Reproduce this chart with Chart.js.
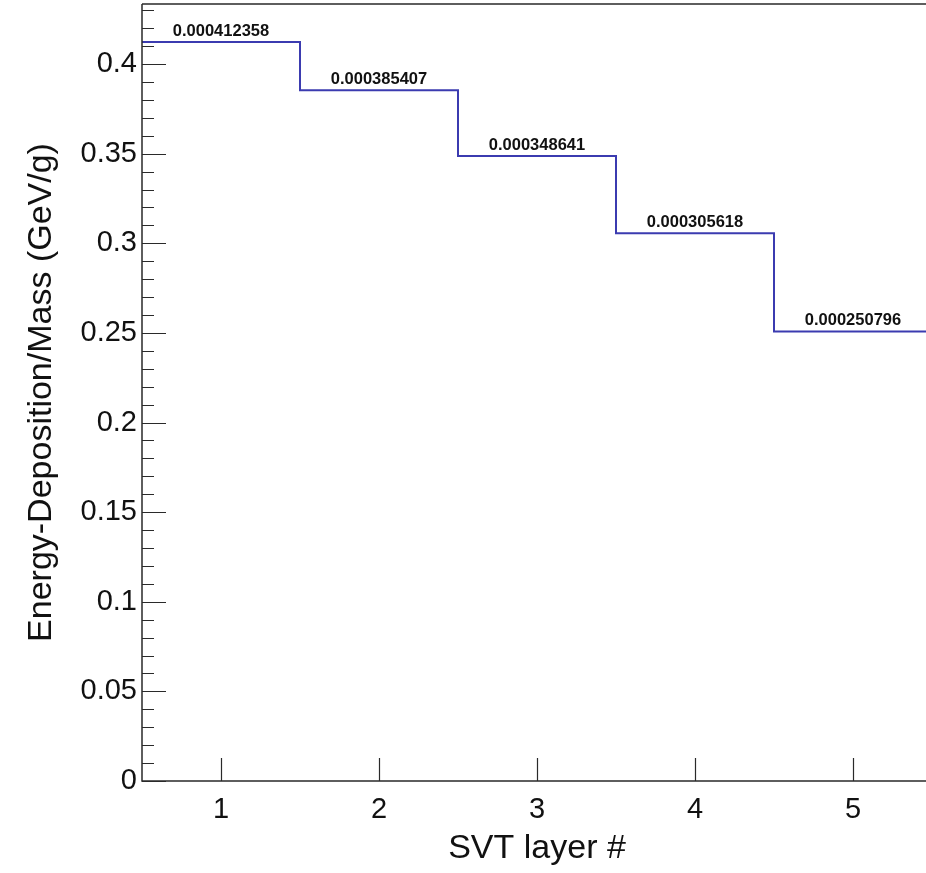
<!DOCTYPE html>
<html>
<head>
<meta charset="utf-8">
<script src="https://cdn.jsdelivr.net/npm/chart.js@4.4.0/dist/chart.umd.min.js"></script>
<style>
  html, body { margin: 0; padding: 0; background: #fff; overflow: hidden; }
  #wrap { position: relative; width: 940px; height: 873px; }
</style>
</head>
<body>
<div id="wrap"><canvas id="layerChart"></canvas></div>
<script>
// SVT layers and the energy deposited per mass in each one
var layers = [1, 2, 3, 4, 5];
var depositValues = [0.412358, 0.385407, 0.348641, 0.305618, 0.250796];
var binLabels = ['0.000412358', '0.000385407', '0.000348641', '0.000305618', '0.000250796'];
var yTickValues = [0, 0.05, 0.1, 0.15, 0.2, 0.25, 0.3, 0.35, 0.4];

var lineColor = '#3b3bb0';
var axisColor = '#2a2a2a';

// histogram outline: one point on each bin's left edge, plus the last right edge
var stepPoints = layers.map(function (l, i) { return { x: l - 0.5, y: depositValues[i] }; });
stepPoints.push({ x: layers[layers.length - 1] + 0.5, y: depositValues[depositValues.length - 1] });

// frame, inward ticks and bin content labels, drawn the ROOT way
var histDecor = {
    id: 'histDecor',
    afterDatasetsDraw: function (chart) {
        var c = chart.ctx;
        var xs = chart.scales.x, ys = chart.scales.y;
        var area = chart.chartArea;
        c.save();
        c.strokeStyle = axisColor;
        c.lineWidth = 1.5;
        c.beginPath();
        c.moveTo(area.left, area.top);
        c.lineTo(area.right, area.top);
        c.moveTo(area.left, area.top);
        c.lineTo(area.left, area.bottom);
        c.lineTo(area.right, area.bottom);
        c.stroke();

        // y ticks: major every 0.05, minor every 0.01
        c.lineWidth = 1.2;
        c.beginPath();
        for (var k = 0; k * 0.01 <= ys.max + 1e-9; k++) {
            var py = Math.round(ys.getPixelForValue(k * 0.01)) + 0.5;
            var len = (k % 5 === 0) ? 24 : 12;
            c.moveTo(area.left, py);
            c.lineTo(area.left + len, py);
        }
        // x ticks at each layer
        layers.forEach(function (l) {
            var px = Math.round(xs.getPixelForValue(l)) + 0.5;
            c.moveTo(px, area.bottom);
            c.lineTo(px, area.bottom - 23);
        });
        c.stroke();

        // bin content text above each step
        c.fillStyle = '#111';
        c.font = 'bold 16.5px "Liberation Sans", Arial, sans-serif';
        c.textAlign = 'center';
        c.textBaseline = 'alphabetic';
        layers.forEach(function (l, i) {
            c.fillText(binLabels[i], xs.getPixelForValue(l), ys.getPixelForValue(depositValues[i]) - 6);
        });
        c.restore();
    }
};

var ctx = document.getElementById('layerChart').getContext('2d');

var layerChart = new Chart(ctx, {
    type: 'line',
    data: {
        datasets: [{
            label: 'Energy-Deposition/Mass',
            data: stepPoints,
            stepped: 'before',
            borderColor: lineColor,
            borderWidth: 2,
            pointRadius: 0,
            fill: false
        }]
    },
    options: {
        responsive: true,
        maintainAspectRatio: false,
        animation: false,
        layout: { padding: { top: 4, right: 8, left: 0, bottom: 0 } },
        plugins: {
            legend: { display: false },
            tooltip: { enabled: false }
        },
        scales: {
            x: {
                type: 'linear',
                min: 0.5,
                max: 5.5,
                border: { display: false },
                grid: { display: false, drawTicks: false },
                afterBuildTicks: function (axis) {
                    axis.ticks = layers.map(function (l) { return { value: l }; });
                },
                afterFit: function (axis) {
                    axis.height = 92;
                    axis.paddingLeft = 0;
                    axis.paddingRight = 0;
                },
                ticks: {
                    padding: 12,
                    color: '#111',
                    font: { family: '"Liberation Sans", Arial, sans-serif', size: 29 }
                },
                title: {
                    display: true,
                    text: 'SVT layer #',
                    color: '#111',
                    padding: { top: 3 },
                    font: { family: '"Liberation Sans", Arial, sans-serif', size: 34 }
                }
            },
            y: {
                type: 'linear',
                min: 0,
                max: 0.4335,
                border: { display: false },
                grid: { display: false, drawTicks: false },
                afterBuildTicks: function (axis) {
                    axis.ticks = yTickValues.map(function (v) { return { value: v }; });
                },
                afterFit: function (axis) {
                    axis.width = 142;
                    axis.paddingTop = 0;
                    axis.paddingBottom = 0;
                },
                ticks: {
                    padding: 5,
                    color: '#111',
                    font: { family: '"Liberation Sans", Arial, sans-serif', size: 29 },
                    callback: function (v) { return String(Math.round(v * 100) / 100); }
                },
                title: {
                    display: true,
                    text: 'Energy-Deposition/Mass (GeV/g)',
                    color: '#111',
                    padding: { top: 21 },
                    font: { family: '"Liberation Sans", Arial, sans-serif', size: 34 }
                }
            }
        }
    },
    plugins: [histDecor]
});
</script>
</body>
</html>
